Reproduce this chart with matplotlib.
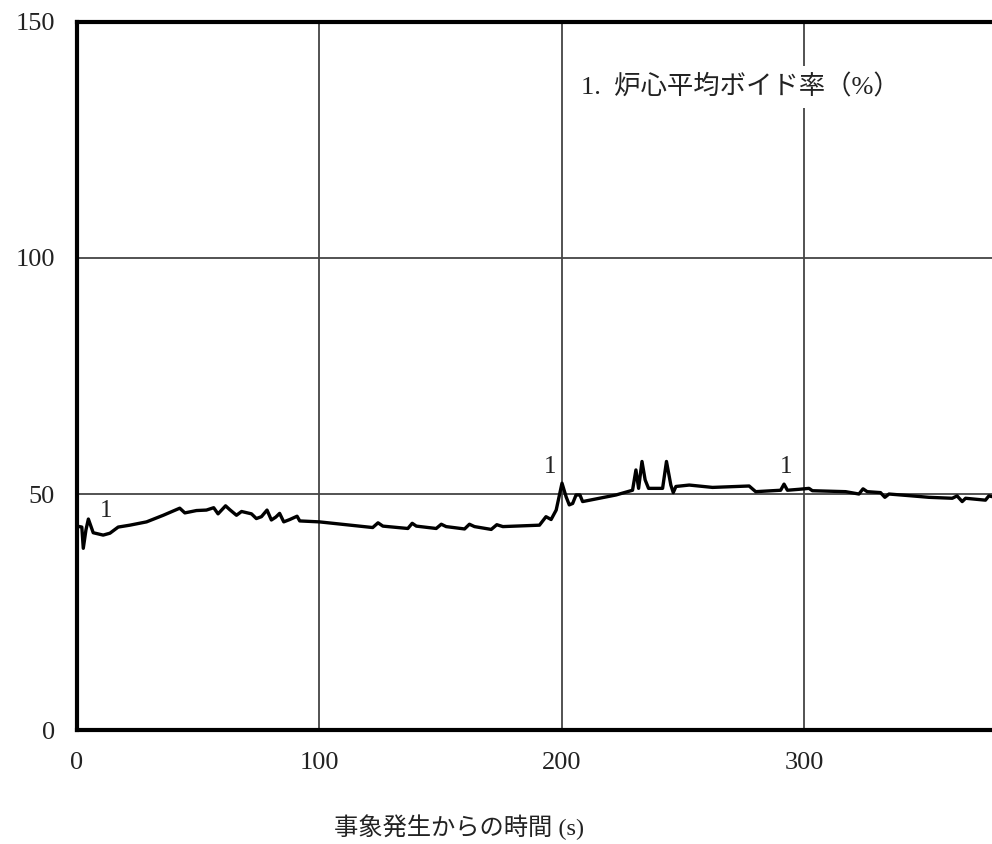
import numpy as np
import matplotlib
matplotlib.use('Agg')
import matplotlib.pyplot as plt

plt.rcParams['font.family'] = ['Liberation Serif', 'Noto Sans CJK JP', 'DejaVu Sans']

# core average void fraction
time_s = [0, 2, 2.6, 3.7, 4.7, 6.7, 10.8, 13.6, 17, 21.8, 28.7, 35.6, 42.4, 44.5, 49.3,
          53.4, 56.4, 58.2, 61.3, 63, 65.8, 67.9, 72, 74, 76.1, 78.4, 80.2, 82, 83.6,
          85.3, 87.8, 90.8, 91.9, 100, 122, 124.2, 126.2, 136.5, 138.3, 140, 148.2,
          150.3, 152.3, 159.9, 161.9, 164, 170.9, 173.2, 175.7, 190.8, 193.5, 195.6,
          197.7, 200.1, 201.8, 203.1, 204.5, 205.9, 207.5, 208.6, 215.5, 222.4, 229.2,
          230.6, 231.7, 233.1, 234.4, 235.8, 241.6, 243.2, 245, 246, 247.1, 252.6,
          262.2, 277.3, 280, 290.3, 291.7, 293.1, 297.9, 302, 303.4, 317.1, 322.6,
          324.3, 326, 331.5, 333.3, 335, 344.6, 351.5, 361.1, 363.1, 365.2, 366.6,
          374.8, 376.2, 378]
void_pct = [43.2, 43, 38.5, 42.4, 44.7, 41.8, 41.3, 41.7, 43, 43.4, 44.1, 45.5, 47, 46.0,
            46.5, 46.6, 47.1, 45.8, 47.5, 46.7, 45.5, 46.3, 45.8, 44.8, 45.2, 46.6, 44.5,
            45.1, 45.9, 44.1, 44.6, 45.3, 44.3, 44.1, 42.9, 43.9, 43.2, 42.7, 43.8, 43.2,
            42.7, 43.6, 43.1, 42.6, 43.6, 43.1, 42.5, 43.5, 43.1, 43.4, 45.2, 44.6,
            46.6, 52.3, 49.4, 47.7, 48, 49.8, 49.8, 48.4, 49.1, 49.8, 50.8,
            55.1, 51.2, 56.9, 53, 51.2, 51.2, 56.9, 51.9, 50.3, 51.6, 51.9,
            51.4, 51.7, 50.5, 50.8, 52.1, 50.8, 51, 51.2, 50.7, 50.5, 50,
            51.1, 50.5, 50.3, 49.3, 50, 49.6, 49.3, 49.1, 49.6, 48.4, 49.1,
            48.7, 49.6, 49.4]

# curve number markers
mark_t = [12, 195, 292.4]
mark_v = [46.3, 55.8, 55.8]

legend_text = '1.  炉心平均ボイド率（%）'
xlabel_text = '事象発生からの時間 (s)'

fig = plt.figure(figsize=(9.92, 8.44), dpi=100)
ax = fig.add_axes([0.0776, 0.135, 0.9224, 0.839])

ax.plot(time_s, void_pct, color='black', lw=2.4, zorder=3)
for t, v in zip(mark_t, mark_v):
    ax.text(t, v, '1', fontsize=18, ha='center', va='center', color='#222222')

ax.text(208, 136.3, legend_text, fontsize=19, ha='left', va='center', color='#222222',
        bbox=dict(facecolor='white', edgecolor='none', pad=6), zorder=4)

ax.set_xlim(0, 377.5)
ax.set_ylim(0, 150)
ax.set_xticks([0, 100, 200, 300])
ax.set_yticks([0, 50, 100, 150])
ax.tick_params(length=0, labelsize=19, pad=16, colors='#222222')
ax.grid(True, color='#444444', lw=1.3)
ax.set_axisbelow(True)

for s in ['left', 'bottom', 'top']:
    ax.spines[s].set_linewidth(3)
    ax.spines[s].set_color('black')
ax.spines['right'].set_visible(False)

fig.text(0.4627, 0.0201, xlabel_text, fontsize=17.5, ha='center', va='center', color='#222222')

fig.savefig('out.png', dpi=100)
